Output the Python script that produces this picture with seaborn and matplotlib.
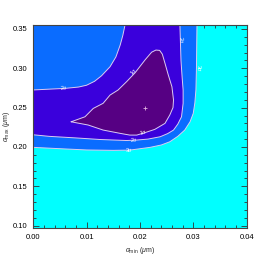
import matplotlib
matplotlib.use("Agg")
import matplotlib.pyplot as plt
import numpy as np
import seaborn as sns
from matplotlib.ticker import MultipleLocator, FormatStrFormatter

# contour boundaries (alpha_min, alpha_max in micron)
sigma3_x = [0.0, 0.005, 0.010, 0.015, 0.0181, 0.0219, 0.0240, 0.0256, 0.0271,
            0.0284, 0.0294, 0.0300, 0.0303, 0.0305, 0.0306, 0.0307]
sigma3_y = [0.1995, 0.1978, 0.1962, 0.1957, 0.1960, 0.1995, 0.2025, 0.2066, 0.2135,
            0.2215, 0.2320, 0.2427, 0.2560, 0.2724, 0.3000, 0.3550]

sigma2_low_x = [0.0, 0.003, 0.008, 0.0125, 0.0175, 0.0194, 0.0215, 0.0238, 0.0252,
                0.0263, 0.0271, 0.0278, 0.0281, 0.0281, 0.0279, 0.0277, 0.0275]
sigma2_low_y = [0.2155, 0.2135, 0.2115, 0.2095, 0.2082, 0.2088, 0.2100, 0.2130, 0.2170,
                0.2215, 0.2290, 0.2384, 0.2555, 0.2724, 0.2900, 0.3100, 0.3550]

sigma2_top_x = [0.0, 0.003, 0.006, 0.0085, 0.010, 0.0115, 0.0128, 0.0144, 0.0155,
                0.0163, 0.0168, 0.0172]
sigma2_top_y = [0.2725, 0.2735, 0.2745, 0.2762, 0.2785, 0.2835, 0.2905, 0.3020, 0.3145,
                0.3296, 0.3420, 0.3550]

sigma1_x = [0.0071, 0.0097, 0.01125, 0.0131, 0.0144, 0.0159, 0.0175, 0.0191, 0.0210,
            0.0222, 0.0230, 0.0237, 0.0242, 0.0247, 0.0253, 0.0260, 0.0263, 0.0262,
            0.0256, 0.0247, 0.0228, 0.0209, 0.0194, 0.0181, 0.0163, 0.0131, 0.0103, 0.0071]
sigma1_y = [0.2320, 0.2384, 0.2490, 0.2555, 0.2660, 0.2724, 0.2830, 0.2944, 0.3110,
            0.3205, 0.3232, 0.3228, 0.3180, 0.3064, 0.2920, 0.2766, 0.2597, 0.2500,
            0.2406, 0.2300, 0.2224, 0.2181, 0.2151, 0.2151, 0.2173, 0.2215, 0.2279, 0.2320]

best_fit = (0.021, 0.249)

label_text = ["2\u03c3", "1\u03c3", "2\u03c3", "3\u03c3", "1\u03c3", "2\u03c3", "3\u03c3"]
label_x = [0.0057, 0.0188, 0.0276, 0.0310, 0.0207, 0.0188, 0.0179]
label_y = [0.2742, 0.2960, 0.3360, 0.3000, 0.2178, 0.2083, 0.1957]
label_rot = [5, 48, -85, -88, 18, 4, 2]

colors = {"3": "#00ffff", "2": "#0a6cff", "1": "#3a00dc", "0": "#560083"}
line_color = "#dccbf2"

sns.set_style("ticks")
plt.rcParams["font.family"] = ["Liberation Sans", "DejaVu Sans"]
plt.rcParams["mathtext.fontset"] = "custom"
plt.rcParams["mathtext.rm"] = "Liberation Sans"
plt.rcParams["mathtext.it"] = "Liberation Sans:italic"

fig = plt.figure(figsize=(2.66, 2.61), dpi=100)
ax = fig.add_axes([0.125, 0.125, 0.802, 0.779])
ax.set_facecolor(colors["3"])

xmin, xmax = 0.0, 0.04
ymin, ymax = 0.0965, 0.355

# 2-3 sigma region
ax.fill(list(sigma3_x) + [0.0], list(sigma3_y) + [ymax], color=colors["2"], lw=0)
# 1-2 sigma region
viol_x = list(sigma2_low_x) + list(sigma2_top_x[::-1])
viol_y = list(sigma2_low_y) + list(sigma2_top_y[::-1])
ax.fill(viol_x, viol_y, color=colors["1"], lw=0)
# < 1 sigma
ax.fill(sigma1_x, sigma1_y, color=colors["0"], lw=0)

for xs, ys in [(sigma3_x, sigma3_y), (sigma2_low_x, sigma2_low_y),
               (sigma2_top_x, sigma2_top_y), (sigma1_x, sigma1_y)]:
    sns.lineplot(x=xs, y=ys, ax=ax, color=line_color, lw=0.7, sort=False,
                 estimator=None)

ax.plot(*best_fit, marker="+", color="#e0b0e0", ms=2.5, mew=0.6)

for t, x, y, r in zip(label_text, label_x, label_y, label_rot):
    ax.text(x, y, t, fontsize=4, color="white", rotation=r, ha="center",
            va="center", rotation_mode="anchor")

ax.set_xlim(xmin, xmax)
ax.set_ylim(ymin, ymax)
ax.xaxis.set_major_locator(MultipleLocator(0.01))
ax.xaxis.set_minor_locator(MultipleLocator(0.002))
ax.yaxis.set_major_locator(MultipleLocator(0.05))
ax.yaxis.set_minor_locator(MultipleLocator(0.01))
ax.xaxis.set_major_formatter(FormatStrFormatter("%.2f"))
ax.yaxis.set_major_formatter(FormatStrFormatter("%.2f"))
ax.tick_params(which="both", direction="in", top=True, right=True,
               labelsize=5.5, colors="#333333", labelcolor="black", width=0.6)
ax.tick_params(which="major", length=4, pad=4)
ax.tick_params(which="minor", length=2)
for s in ax.spines.values():
    s.set_linewidth(0.8)
    s.set_color("#444444")

ax.set_xlabel(r"$\alpha_{\rm min}$ ($\mu$m)", fontsize=5, labelpad=3)
ax.set_ylabel(r"$\alpha_{\rm max}$ ($\mu$m)", fontsize=5, labelpad=1)

fig.savefig("out.png", dpi=100)
